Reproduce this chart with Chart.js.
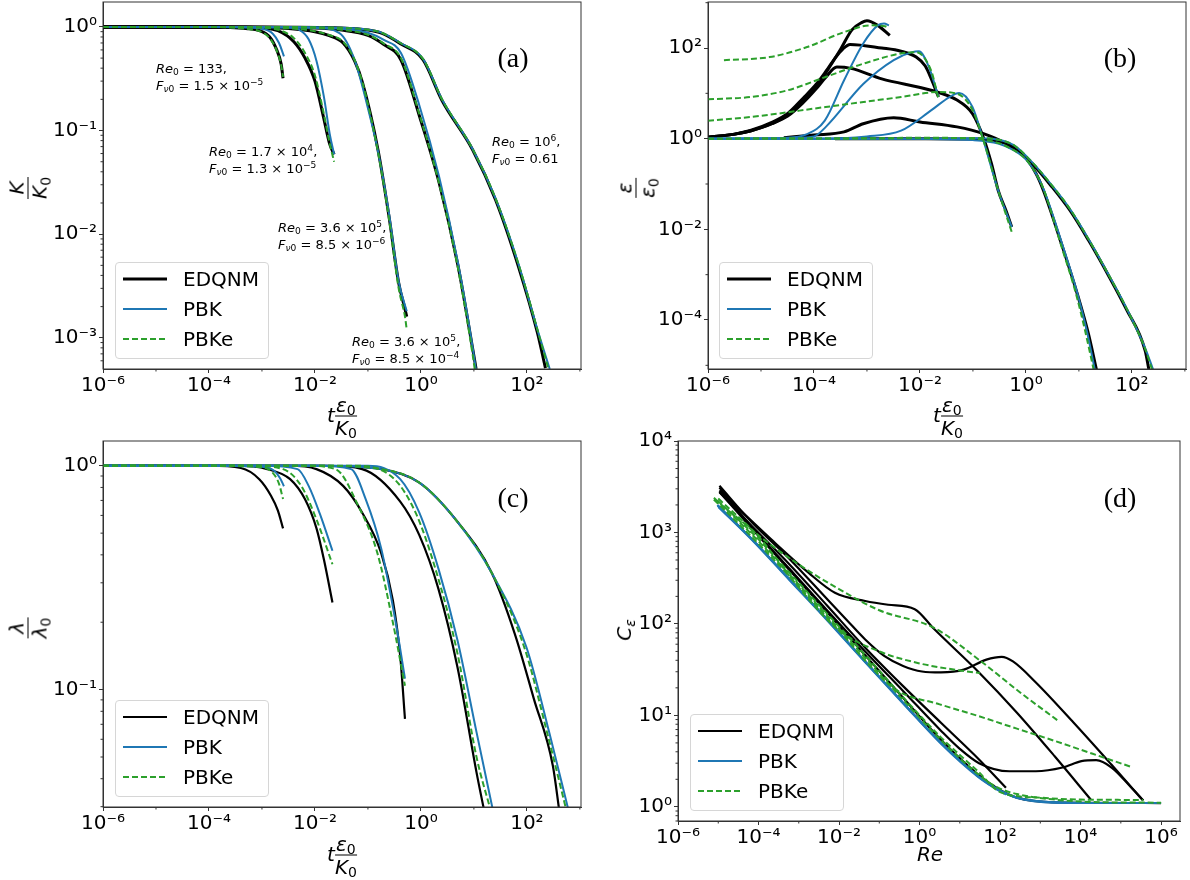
<!DOCTYPE html>
<html>
<head>
<meta charset="utf-8">
<script src="https://cdn.jsdelivr.net/npm/chart.js@4.4.0/dist/chart.umd.min.js"></script>
<style>
  body { margin: 0; background: #fff; font-family: "DejaVu Sans", sans-serif; }
  #fig { position: relative; width: 1190px; height: 880px; overflow: hidden; }
  #fig canvas { position: absolute; }
  .lbl { position: absolute; white-space: nowrap; color: #000; transform: translate(-50%, -50%); }
  .rot { transform: translate(-50%, -50%) rotate(-90deg); }
  .frac { display: inline-flex; flex-direction: column; align-items: center; vertical-align: middle; line-height: 1; }
  .frac .den { border-top: 1.4px solid #000; padding-top: 1px; }
  .frac .num { padding-bottom: 1px; }
  sub, sup { font-size: 0.7em; line-height: 0; }
  sub { vertical-align: -0.25em; }
  sup { vertical-align: 0.55em; }
  .axt { font-size: 20px; }
  .tag { position: absolute; font-family: "Liberation Serif", serif; font-size: 28px; transform: translate(-50%, -50%); }
  .note { position: absolute; font-size: 13px; line-height: 17px; white-space: nowrap; }
  .leg { position: absolute; border: 1px solid #d6d6d6; border-radius: 4px; background: rgba(255,255,255,0.85); box-sizing: border-box; }
  .leg .row { position: absolute; left: 0; height: 24px; font-size: 20px; line-height: 24px; }
  .leg svg { position: absolute; top: 9px; }
  .leg span { position: absolute; top: 0; }
</style>
</head>
<body>
<div id="fig">
  <canvas id="ca" width="595" height="440" style="left:0;top:0"></canvas>
  <canvas id="cb" width="595" height="440" style="left:595px;top:0"></canvas>
  <canvas id="cc" width="595" height="440" style="left:0;top:440px"></canvas>
  <canvas id="cd" width="595" height="455" style="left:595px;top:425px"></canvas>

  <!-- axis labels -->
  <div class="lbl rot axt" style="left:28px;top:188px"><span class="frac"><span class="num"><i>K</i></span><span class="den"><i>K</i><sub>0</sub></span></span></div>
  <div class="lbl axt" style="left:342px;top:416px"><i>t</i><span class="frac"><span class="num"><i>ε</i><sub>0</sub></span><span class="den"><i>K</i><sub>0</sub></span></span></div>
  <div class="lbl rot axt" style="left:636px;top:188px"><span class="frac"><span class="num"><i>ε</i></span><span class="den"><i>ε</i><sub>0</sub></span></span></div>
  <div class="lbl axt" style="left:948px;top:416px"><i>t</i><span class="frac"><span class="num"><i>ε</i><sub>0</sub></span><span class="den"><i>K</i><sub>0</sub></span></span></div>
  <div class="lbl rot axt" style="left:28px;top:628px"><span class="frac"><span class="num"><i>λ</i></span><span class="den"><i>λ</i><sub>0</sub></span></span></div>
  <div class="lbl axt" style="left:342px;top:855px"><i>t</i><span class="frac"><span class="num"><i>ε</i><sub>0</sub></span><span class="den"><i>K</i><sub>0</sub></span></span></div>
  <div class="lbl rot axt" style="left:624px;top:630px"><i>C</i><sub><i>ε</i></sub></div>
  <div class="lbl axt" style="left:930px;top:854px"><i>Re</i></div>

  <!-- panel tags -->
  <div class="tag" style="left:513px;top:58px">(a)</div>
  <div class="tag" style="left:1120px;top:58px">(b)</div>
  <div class="tag" style="left:513px;top:498px">(c)</div>
  <div class="tag" style="left:1120px;top:498px">(d)</div>

  <!-- case notes in (a) -->
  <div class="note" style="left:156px;top:60px"><i>Re</i><sub>0</sub> = 133,<br><i>F</i><sub><i>ν</i>0</sub> = 1.5 × 10<sup>−5</sup></div>
  <div class="note" style="left:209px;top:143px"><i>Re</i><sub>0</sub> = 1.7 × 10<sup>4</sup>,<br><i>F</i><sub><i>ν</i>0</sub> = 1.3 × 10<sup>−5</sup></div>
  <div class="note" style="left:278px;top:219px"><i>Re</i><sub>0</sub> = 3.6 × 10<sup>5</sup>,<br><i>F</i><sub><i>ν</i>0</sub> = 8.5 × 10<sup>−6</sup></div>
  <div class="note" style="left:352px;top:333px"><i>Re</i><sub>0</sub> = 3.6 × 10<sup>5</sup>,<br><i>F</i><sub><i>ν</i>0</sub> = 8.5 × 10<sup>−4</sup></div>
  <div class="note" style="left:492px;top:133px"><i>Re</i><sub>0</sub> = 10<sup>6</sup>,<br><i>F</i><sub><i>ν</i>0</sub> = 0.61</div>

  <div id="legends"></div>
</div>
<script>
// ---------- panel (a): K/K0 against t eps0/K0 ----------
const aT1 = [1e-6, 1e-4, 2.5e-4, 5e-4, 9e-4, 1.4e-3, 1.9e-3, 2.3e-3, 2.5e-3];
const aK1_edqnm = [1, 0.999, 0.99, 0.965, 0.92, 0.8, 0.6, 0.44, 0.32];
const aK1_pbke = [1, 0.999, 0.99, 0.96, 0.91, 0.78, 0.59, 0.43, 0.33];
const aT1_pbk = [1e-6, 1e-4, 5e-4, 1e-3, 1.6e-3, 2.1e-3, 2.6e-3];
const aK1_pbk = [1, 1, 0.99, 0.96, 0.86, 0.7, 0.52];

const aT2 = [1e-6, 1e-4, 5e-4, 1e-3, 2e-3, 4e-3, 6.5e-3, 1e-2, 1.45e-2, 1.9e-2, 2.3e-2];
const aK2_edqnm = [1, 1, 0.995, 0.975, 0.92, 0.72, 0.5, 0.3, 0.135, 0.074, 0.059];
const aK2_pbke = [1, 1, 0.997, 0.985, 0.94, 0.78, 0.56, 0.34, 0.15, 0.075, 0.05];
const aT2_pbk = [1e-6, 1e-4, 1e-3, 3.2e-3, 5e-3, 7.6e-3, 1.07e-2, 1.48e-2, 1.9e-2, 2.3e-2];
const aK2_pbk = [1, 1, 1, 0.99, 0.94, 0.76, 0.47, 0.21, 0.093, 0.059];

const aT3 = [1e-6, 1e-4, 1e-3, 3.2e-3, 1e-2, 1.8e-2, 3.4e-2, 5.6e-2, 7.9e-2, 0.155, 0.25, 0.38, 0.5, 0.54];
const aK3_edqnm = [1, 1, 0.99, 0.966, 0.9, 0.83, 0.7, 0.47, 0.29, 0.065, 0.0148, 0.0034, 0.0019, 0.0016];
const aK3_pbke = [1, 1, 0.99, 0.97, 0.91, 0.84, 0.72, 0.48, 0.29, 0.062, 0.014, 0.003, 0.0016, 0.0012];
const aT3_pbk = [1e-6, 1e-4, 1e-3, 1e-2, 2.9e-2, 5.6e-2, 0.11, 0.155, 0.25, 0.38, 0.54];
const aK3_pbk = [1, 1, 1, 0.98, 0.87, 0.48, 0.135, 0.063, 0.0158, 0.0035, 0.0018];

const aT4 = [1e-6, 1e-4, 1e-2, 3.2e-2, 0.1, 0.2, 0.42, 0.95, 2.2, 5, 9.5, 11];
const aK4_edqnm = [1, 1, 0.977, 0.933, 0.83, 0.676, 0.48, 0.135, 0.0316, 0.005, 0.00078, 0.0005];
const aK4_pbk = [1, 1, 0.99, 0.96, 0.88, 0.75, 0.56, 0.17, 0.036, 0.0053, 0.0008, 0.00048];
const aK4_pbke = [1, 1, 0.98, 0.94, 0.84, 0.69, 0.5, 0.14, 0.031, 0.0047, 0.00068, 0.0004];

const aT5 = [1e-6, 1e-3, 3.2e-2, 0.1, 0.18, 0.41, 1.1, 2.5, 9.5, 25.7, 69, 158, 224];
const aK5_edqnm = [1, 1, 0.977, 0.933, 0.87, 0.69, 0.48, 0.195, 0.065, 0.0214, 0.0049, 0.00112, 0.00051];
const aT5_pbk = [1e-6, 1e-3, 3.2e-2, 0.1, 0.18, 0.41, 1.1, 2.5, 9.5, 25.7, 69, 158, 270];
const aT5_pbke = [1e-6, 1e-3, 3.2e-2, 0.1, 0.18, 0.41, 1.1, 2.5, 9.5, 25.7, 69, 158, 255];
const aK5_pbk = [1, 1, 0.98, 0.94, 0.88, 0.7, 0.49, 0.2, 0.066, 0.022, 0.0052, 0.0012, 0.0005];

// ---------- panel (b): eps/eps0 ----------
const bT1 = [1e-6, 3.2e-6, 6.3e-6, 1.6e-5, 3.2e-5, 6.3e-5, 1.1e-4, 1.66e-4, 3.2e-4, 5.2e-4, 7.9e-4, 1e-3, 1.6e-3, 2.7e-3];
const bE1_edqnm = [1.07, 1.26, 1.48, 2.14, 3.3, 7.1, 14.1, 28, 95, 251, 363, 398, 316, 190];
const bT1_pbk = [1e-6, 3.2e-5, 7.4e-5, 1.6e-4, 3.7e-4, 8.5e-4, 1.6e-3, 2.1e-3, 2.6e-3];
const bE1_pbk = [1, 1.05, 1.26, 2.5, 19.5, 126, 316, 347, 316];
const bT1_pbke = [2e-6, 1.45e-5, 7.4e-5, 3.7e-4, 1.17e-3, 2.2e-3, 2.5e-3];
const bE1_pbke = [54, 63, 105, 224, 316, 302, 282];

const bT2 = [1e-6, 3.2e-6, 6.3e-6, 1.6e-5, 3.2e-5, 6.3e-5, 1.1e-4, 1.66e-4, 2.5e-4, 3.5e-4, 4.8e-4, 1.9e-3, 4.4e-3, 8.5e-3, 1.26e-2, 1.66e-2, 2.24e-2];
const bE2_edqnm = [1.07, 1.26, 1.51, 2.29, 3.6, 7.9, 15.8, 30, 60, 95, 120, 100, 85, 63, 40, 20, 8.3];
const bT2_pbk = [1e-6, 3.2e-5, 1e-4, 1.66e-4, 8.5e-4, 3.2e-3, 7.1e-3, 9.5e-3, 1.48e-2, 2.24e-2];
const bE2_pbk = [1, 1.02, 1.12, 1.8, 16, 54, 81, 85, 38, 8.3];
const bT2_pbke = [1e-6, 6.3e-6, 3.2e-5, 1.66e-4, 8.5e-4, 4.4e-3, 8.3e-3, 1.62e-2, 2.24e-2];
const bE2_pbke = [7.4, 8.3, 11.7, 23, 45, 76, 81, 32, 7.6];

const bT3 = [1e-6, 3.2e-6, 6.3e-6, 1.6e-5, 3.2e-5, 6.3e-5, 1.1e-4, 1.66e-4, 2.7e-4, 5e-4, 1.9e-3, 1.62e-2, 5e-2, 9.8e-2, 0.158, 0.224, 0.3, 0.42, 0.54];
const bE3_edqnm = [1.07, 1.26, 1.48, 2.14, 3.16, 6.3, 12.6, 22.4, 38, 35.5, 20.9, 11.7, 7.1, 3.55, 1.05, 0.28, 0.072, 0.026, 0.0112];
const bT3_pbk = [1e-6, 1e-4, 1e-3, 4.4e-3, 1.62e-2, 3.6e-2, 5.5e-2, 9.8e-2, 0.158, 0.3, 0.54];
const bE3_pbk = [1, 1, 1.12, 1.5, 4.2, 8.3, 10.2, 5, 0.91, 0.072, 0.0112];
const bT3_pbke = [1e-6, 6.3e-6, 1.66e-4, 4.4e-3, 2.24e-2, 5e-2, 9.8e-2, 0.158, 0.3, 0.54];
const bE3_pbke = [2.5, 3, 5, 8.3, 10.7, 9.8, 4.3, 0.91, 0.072, 0.0087];

const bT4 = [2.7e-5, 1e-4, 3.7e-4, 8.5e-4, 3.2e-3, 1e-2, 5e-2, 0.158, 0.42, 0.95, 1.55, 2.14, 4.9, 9.3, 15.1, 21.4];
const bE4_edqnm = [1.05, 1.2, 1.41, 2.14, 2.9, 2.34, 1.82, 1.29, 0.78, 0.4, 0.17, 0.072, 0.0041, 0.00038, 5e-5, 8.1e-6];
const bT4_pbk = [1e-6, 1e-3, 1e-2, 0.1, 0.3, 0.6, 1, 1.6, 2.2, 4.9, 9.3, 14, 20];
const bE4_pbk = [1, 1, 0.99, 0.93, 0.78, 0.55, 0.35, 0.16, 0.072, 0.0045, 0.0004, 6e-5, 8e-6];
const bT4_pbke = [1e-6, 1e-3, 1e-2, 0.1, 0.3, 0.6, 1, 1.6, 2.2, 4.6, 8.7, 13, 19];
const bE4_pbke = [1, 1.02, 1.05, 1, 0.8, 0.55, 0.35, 0.16, 0.072, 0.0045, 0.0004, 6e-5, 8e-6];

const bT5 = [2.5e-4, 1e-2, 0.115, 0.3, 0.59, 1.32, 2.95, 6.8, 15.1, 34.7, 77.6, 178, 209];
const bE5_edqnm = [1, 0.995, 0.98, 0.88, 0.66, 0.28, 0.093, 0.026, 0.0058, 0.00105, 0.000178, 2.1e-5, 8.1e-6];
const bT5_pbk = [1e-6, 1e-2, 0.115, 0.3, 0.59, 1.32, 2.95, 6.8, 15.1, 34.7, 77.6, 178, 251];
const bE5_pbk = [1, 1, 1.02, 0.95, 0.72, 0.3, 0.1, 0.028, 0.0062, 0.0011, 0.00019, 2.4e-5, 8.1e-6];
const bT5_pbke = [1e-6, 1e-2, 0.115, 0.3, 0.59, 1.32, 2.95, 6.8, 15.1, 34.7, 77.6, 178, 240];
const bE5_pbke = [1, 1.02, 1.04, 0.95, 0.72, 0.3, 0.1, 0.028, 0.0061, 0.0011, 0.00019, 2.3e-5, 8.1e-6];

// ---------- panel (c): lambda/lambda0 ----------
const cT1 = [1e-6, 1e-4, 4e-4, 8.9e-4, 1.48e-3, 2e-3, 2.5e-3];
const cL1_edqnm = [1, 1, 0.977, 0.871, 0.735, 0.631, 0.525];
const cT1_pbk = [1e-6, 1e-4, 1e-3, 1.7e-3, 2.2e-3, 2.6e-3];
const cL1_pbk = [1, 1, 0.99, 0.95, 0.88, 0.81];
const cT1_pbke = [1e-6, 1e-4, 1e-3, 1.6e-3, 2.1e-3, 2.5e-3];
const cL1_pbke = [1, 1, 0.985, 0.93, 0.83, 0.71];

const cT2 = [1e-6, 3.2e-4, 1.26e-3, 3.4e-3, 6.5e-3, 1.07e-2, 1.48e-2, 2.14e-2];
const cL2_edqnm = [1, 1, 0.966, 0.871, 0.708, 0.525, 0.38, 0.245];
const cT2_pbk = [1e-6, 1e-3, 4.7e-3, 7.6e-3, 1.26e-2, 2.14e-2];
const cL2_pbk = [1, 1, 0.966, 0.813, 0.603, 0.417];
const cT2_pbke = [1e-6, 6.3e-4, 2.5e-3, 5.5e-3, 1.07e-2, 2.14e-2];
const cL2_pbke = [1, 1, 0.966, 0.813, 0.575, 0.363];

const cT3 = [1e-6, 3.2e-3, 1.07e-2, 3.4e-2, 7.8e-2, 0.178, 0.295, 0.407, 0.5];
const cL3_edqnm = [1, 1, 0.966, 0.813, 0.617, 0.407, 0.251, 0.141, 0.074];
const cT3_pbk = [1e-6, 1e-2, 4.8e-2, 9.1e-2, 0.178, 0.347, 0.5];
const cL3_pbk = [1, 1, 0.966, 0.708, 0.427, 0.19, 0.112];
const cT3_pbke = [1e-6, 6.3e-3, 2.45e-2, 6.6e-2, 0.151, 0.295, 0.5];
const cL3_pbke = [1, 1, 0.966, 0.661, 0.407, 0.2, 0.104];

const cT4 = [1e-6, 1.6e-2, 7.8e-2, 0.407, 0.933, 2.14, 4.9, 11.2, 16];
const cL4_edqnm = [1, 1, 0.966, 0.692, 0.49, 0.282, 0.126, 0.0427, 0.028];
const cT4_pbk = [1e-6, 0.1, 0.407, 0.933, 2.14, 4.9, 11.2, 23.5];
const cL4_pbk = [1, 1, 0.871, 0.617, 0.347, 0.166, 0.0646, 0.028];
const cT4_pbke = [1e-6, 6.3e-2, 0.316, 0.794, 1.82, 4.9, 11.2, 21.5];
const cL4_pbke = [1, 1, 0.871, 0.617, 0.355, 0.145, 0.05, 0.028];

const cT5 = [1e-6, 1e-2, 0.178, 0.933, 4.9, 21.9, 58.9, 135, 309, 415];
const cL5_edqnm = [1, 1, 0.966, 0.841, 0.562, 0.331, 0.178, 0.0912, 0.0457, 0.028];
const cT5_pbk = [1e-6, 1e-2, 0.178, 0.933, 4.9, 21.9, 97.7, 263, 630];
const cL5_pbk = [1, 1, 0.966, 0.841, 0.562, 0.331, 0.155, 0.0646, 0.028];
const cT5_pbke = [1e-6, 1e-2, 0.178, 0.933, 4.9, 21.9, 93, 250, 575];
const cL5_pbke = [1, 1, 0.966, 0.841, 0.562, 0.331, 0.15, 0.062, 0.028];

// ---------- panel (d): C_eps against Re ----------
const dRe1 = [1.07e-5, 6.8e-5, 5.9e-4, 5.1e-3, 0.0447, 0.39, 3.4, 30, 140];
const dC1_edqnm = [2754, 1175, 447, 158, 55, 20.9, 8.3, 3.3, 1.62];
const dRe2 = [1.07e-5, 2e-4, 1.74e-3, 7.9e-3, 0.0447, 0.166, 0.76, 2.24, 30, 263, 2.3e3, 1.8e4];
const dC2_edqnm = [2884, 851, 363, 219, 178, 162, 145, 89, 29.5, 10.7, 3.55, 1.2];
const dRe3 = [1.07e-5, 6.8e-5, 5.9e-4, 5.1e-3, 0.0151, 0.0447, 0.132, 0.39, 1.15, 3.4, 12.6, 45.7, 110, 209, 776, 6.76e3, 5.9e4, 3.6e5];
const dC3_edqnm = [3240, 1290, 513, 186, 112, 67.6, 44.7, 34.7, 30.2, 29.5, 31.6, 40.7, 43.7, 38.9, 22.9, 8.3, 2.88, 1.17];
const dRe4 = [1.07e-5, 6.8e-5, 5.9e-4, 5.1e-3, 0.0447, 0.39, 3.4, 10, 30, 170, 776, 3.55e3, 1.05e4, 2.45e4, 5.9e4, 1.74e5, 3.6e5];
const dC4_edqnm = [3090, 1150, 400, 140, 50, 18.5, 6.8, 4.3, 3.0, 2.45, 2.45, 2.69, 3.16, 3.24, 2.69, 1.66, 1.17];
const dRe5 = [1.07e-5, 6.8e-5, 5.9e-4, 5.1e-3, 0.0447, 0.39, 3.4, 29.5, 89, 263, 2.3e3, 1e6];
const dC5_edqnm = [2790, 1106, 386, 134, 45.5, 15.6, 5.4, 2.23, 1.58, 1.26, 1.12, 1.1];

const dRe1_pbk = [1e-5, 6.8e-5, 5.9e-4, 5.1e-3, 0.0447, 0.39, 3.4, 29.5, 89, 140];
const dC1_pbk = [1900, 830, 300, 109, 38, 13.5, 4.9, 2.1, 1.52, 1.36];
const dRe2_pbk = [9.8e-6, 6.8e-5, 5.9e-4, 5.1e-3, 0.0447, 0.39, 3.4, 29.5, 89, 263, 2.3e3, 1.8e4];
const dC2_pbk = [1960, 845, 306, 111, 38.6, 13.7, 5.0, 2.13, 1.54, 1.25, 1.11, 1.1];
const dRe3_pbk = [9.6e-6, 6.8e-5, 5.9e-4, 5.1e-3, 0.0447, 0.39, 3.4, 29.5, 89, 263, 2.3e3, 2e4, 3.6e5];
const dC3_pbk = [1980, 848, 308, 112, 38.8, 13.8, 5.0, 2.14, 1.55, 1.26, 1.12, 1.1, 1.1];
const dRe5_pbk = [9.5e-6, 6.8e-5, 5.9e-4, 5.1e-3, 0.0447, 0.39, 3.4, 29.5, 89, 263, 2.3e3, 2e4, 1e6];
const dC5_pbk = [1995, 851, 309, 112, 38.9, 13.8, 5.0, 2.14, 1.55, 1.26, 1.12, 1.1, 1.1];

const dRe1_pbke = [1e-5, 1e-4, 1e-3, 0.01, 0.1, 1, 10, 31.6];
const dC1_pbke = [2350, 900, 250, 85, 50, 37, 31, 29];
const dRe2_pbke = [7.9e-6, 3.2e-5, 1.05e-4, 1e-3, 0.01, 0.1, 2.24, 31.6, 316, 2.8e3];
const dC2_pbke = [2290, 1413, 912, 447, 240, 141, 91, 39.8, 17.8, 8.7];
const dRe3_pbke = [7.8e-6, 6.8e-5, 5.9e-4, 5.1e-3, 0.0151, 0.0447, 0.257, 3.16, 29.5, 251, 2.3e3, 2e4, 1.74e5];
const dC3_pbke = [2290, 891, 331, 117, 69, 39.8, 19.1, 13.2, 9.8, 7.2, 5.25, 3.8, 2.75];
const dRe4_pbke = [9.5e-6, 6.8e-5, 5.9e-4, 5.1e-3, 0.0447, 0.39, 3.4, 29.5, 100, 1e3, 1e4, 3.6e5];
const dC4_pbke = [2240, 1000, 363, 129, 45.7, 15.8, 5.75, 2.4, 1.45, 1.26, 1.2, 1.19];
const dRe5_pbke = [7.8e-6, 6.8e-5, 5.9e-4, 5.1e-3, 0.0447, 0.39, 3.4, 29.5, 89, 263, 2.3e3, 2e4, 1e6];
const dC5_pbke = [2400, 955, 347, 123, 42.7, 14.8, 5.37, 2.24, 1.62, 1.38, 1.2, 1.13, 1.11];

// tick positions
const tTicks = [1e-6, 1e-4, 1e-2, 1, 1e2];
const aYTicks = [1e-3, 1e-2, 1e-1, 1];
const bYTicks = [1e-4, 1e-2, 1, 1e2];
const cYTicks = [1e-1, 1];
const dXTicks = [1e-6, 1e-4, 1e-2, 1, 1e2, 1e4, 1e6];
const dYTicks = [1, 10, 1e2, 1e3, 1e4];

const legendNames = ['EDQNM', 'PBK', 'PBKe'];

// ---------- helpers ----------
const SUP = { '-': '⁻', '0': '⁰', '1': '¹', '2': '²', '3': '³', '4': '⁴', '5': '⁵', '6': '⁶', '7': '⁷', '8': '⁸', '9': '⁹' };
const sup = v => '10' + String(Math.round(Math.log10(v))).split('').map(c => SUP[c]).join('');
const pts = (xs, ys) => xs.map((x, i) => ({ x: x, y: ys[i] }));

function curve(xs, ys, model, blackWidth) {
  const ds = { label: model, data: pts(xs, ys), fill: false, pointRadius: 0, borderJoinStyle: 'round' };
  if (model === 'EDQNM') return Object.assign(ds, { borderColor: '#000000', borderWidth: blackWidth, order: 3 });
  if (model === 'PBK') return Object.assign(ds, { borderColor: '#1f77b4', borderWidth: 2, order: 2 });
  return Object.assign(ds, { borderColor: '#2ca02c', borderWidth: 2, borderDash: [6, 3], order: 1 });
}

function logAxis(min, max, ticks, isX, size) {
  return {
    type: 'logarithmic', min: min, max: max,
    afterBuildTicks: s => { s.ticks = ticks.map(v => ({ value: v })); },
    afterFit: s => {
      if (isX) s.height = size; else s.width = size;
      s.paddingTop = 0; s.paddingBottom = 0; s.paddingLeft = 0; s.paddingRight = 0;
    },
    ticks: { callback: v => sup(v), autoSkip: false, maxRotation: 0, color: '#000',
             font: { size: 20, family: 'DejaVu Sans' }, padding: isX ? 1 : 2 },
    grid: { display: true, drawOnChartArea: false, drawTicks: true, tickLength: 4, color: '#333' },
    border: { display: true, color: '#333', width: 1 }
  };
}

// box round the plot area + minor ticks, like matplotlib spines
const frame = {
  id: 'frame',
  afterDraw(chart, args, opts) {
    const { ctx, chartArea: a, scales } = chart;
    ctx.save();
    ctx.strokeStyle = '#333';
    ctx.lineWidth = 1;
    ctx.strokeRect(a.left, a.top, a.right - a.left, a.bottom - a.top);
    ctx.beginPath();
    const ys = scales.y, xs = scales.x;
    const yLo = Math.floor(Math.log10(ys.min)), yHi = Math.ceil(Math.log10(ys.max));
    for (let e = yLo; e <= yHi; e++) {
      if (opts.yMinor) {
        for (let k = 2; k <= 9; k++) {
          const v = k * Math.pow(10, e);
          if (v <= ys.min || v >= ys.max) continue;
          const p = ys.getPixelForValue(v);
          ctx.moveTo(a.left - 2.5, p); ctx.lineTo(a.left, p);
        }
      } else if (Math.abs(e % 2) === 1) {
        const v = Math.pow(10, e);
        if (v > ys.min && v < ys.max) {
          const p = ys.getPixelForValue(v);
          ctx.moveTo(a.left - 2.5, p); ctx.lineTo(a.left, p);
        }
      }
    }
    const xLo = Math.floor(Math.log10(xs.min)), xHi = Math.ceil(Math.log10(xs.max));
    for (let e = xLo; e <= xHi; e++) {
      if (Math.abs(e % 2) !== 1) continue;
      const v = Math.pow(10, e);
      if (v <= xs.min || v >= xs.max) continue;
      const p = xs.getPixelForValue(v);
      ctx.moveTo(p, a.bottom); ctx.lineTo(p, a.bottom + 2.5);
    }
    ctx.stroke();
    ctx.restore();
  }
};

function makeChart(id, datasets, c) {
  return new Chart(document.getElementById(id), {
    type: 'line',
    data: { datasets: datasets },
    options: {
      responsive: false, animation: false, devicePixelRatio: 1,
      layout: { padding: c.pad },
      plugins: { legend: { display: false }, tooltip: { enabled: false }, frame: { yMinor: c.yMinor } },
      elements: { line: { cubicInterpolationMode: 'monotone', borderCapStyle: 'butt' }, point: { radius: 0 } },
      scales: {
        x: logAxis(c.xMin, c.xMax, c.xTicks, true, c.xH),
        y: logAxis(c.yMin, c.yMax, c.yTicks, false, c.yW)
      }
    },
    plugins: [frame]
  });
}

// ---------- build charts ----------
const W_A = 3, W_C = 2.2;
makeChart('ca', [
  curve(aT1, aK1_edqnm, 'EDQNM', W_A), curve(aT1_pbk, aK1_pbk, 'PBK'), curve(aT1, aK1_pbke, 'PBKe'),
  curve(aT2, aK2_edqnm, 'EDQNM', W_A), curve(aT2_pbk, aK2_pbk, 'PBK'), curve(aT2, aK2_pbke, 'PBKe'),
  curve(aT3, aK3_edqnm, 'EDQNM', W_A), curve(aT3_pbk, aK3_pbk, 'PBK'), curve(aT3, aK3_pbke, 'PBKe'),
  curve(aT4, aK4_edqnm, 'EDQNM', W_A), curve(aT4, aK4_pbk, 'PBK'), curve(aT4, aK4_pbke, 'PBKe'),
  curve(aT5, aK5_edqnm, 'EDQNM', W_A), curve(aT5_pbk, aK5_pbk, 'PBK'), curve(aT5_pbke, aK5_pbk, 'PBKe')
], { pad: { top: 2, right: 14, left: 0, bottom: 0 }, xMin: 1e-6, xMax: 1.05e3, xTicks: tTicks, xH: 71,
     yMin: 5.0e-4, yMax: 1.74, yTicks: aYTicks, yW: 103, yMinor: true });

makeChart('cb', [
  curve(bT1, bE1_edqnm, 'EDQNM', W_A), curve(bT1_pbk, bE1_pbk, 'PBK'), curve(bT1_pbke, bE1_pbke, 'PBKe'),
  curve(bT2, bE2_edqnm, 'EDQNM', W_A), curve(bT2_pbk, bE2_pbk, 'PBK'), curve(bT2_pbke, bE2_pbke, 'PBKe'),
  curve(bT3, bE3_edqnm, 'EDQNM', W_A), curve(bT3_pbk, bE3_pbk, 'PBK'), curve(bT3_pbke, bE3_pbke, 'PBKe'),
  curve(bT4, bE4_edqnm, 'EDQNM', W_A), curve(bT4_pbk, bE4_pbk, 'PBK'), curve(bT4_pbke, bE4_pbke, 'PBKe'),
  curve(bT5, bE5_edqnm, 'EDQNM', W_A), curve(bT5_pbk, bE5_pbk, 'PBK'), curve(bT5_pbke, bE5_pbke, 'PBKe')
], { pad: { top: 2, right: 4, left: 0, bottom: 0 }, xMin: 1e-6, xMax: 1.05e3, xTicks: tTicks, xH: 71,
     yMin: 8.3e-6, yMax: 1035, yTicks: bYTicks, yW: 113, yMinor: false });

makeChart('cc', [
  curve(cT1, cL1_edqnm, 'EDQNM', W_C), curve(cT1_pbk, cL1_pbk, 'PBK'), curve(cT1_pbke, cL1_pbke, 'PBKe'),
  curve(cT2, cL2_edqnm, 'EDQNM', W_C), curve(cT2_pbk, cL2_pbk, 'PBK'), curve(cT2_pbke, cL2_pbke, 'PBKe'),
  curve(cT3, cL3_edqnm, 'EDQNM', W_C), curve(cT3_pbk, cL3_pbk, 'PBK'), curve(cT3_pbke, cL3_pbke, 'PBKe'),
  curve(cT4, cL4_edqnm, 'EDQNM', W_C), curve(cT4_pbk, cL4_pbk, 'PBK'), curve(cT4_pbke, cL4_pbke, 'PBKe'),
  curve(cT5, cL5_edqnm, 'EDQNM', W_C), curve(cT5_pbk, cL5_pbk, 'PBK'), curve(cT5_pbke, cL5_pbke, 'PBKe')
], { pad: { top: 1, right: 14, left: 0, bottom: 0 }, xMin: 1e-6, xMax: 1.05e3, xTicks: tTicks, xH: 73,
     yMin: 0.0299, yMax: 1.29, yTicks: cYTicks, yW: 103, yMinor: true });

makeChart('cd', [
  curve(dRe1, dC1_edqnm, 'EDQNM', W_C), curve(dRe2, dC2_edqnm, 'EDQNM', W_C), curve(dRe3, dC3_edqnm, 'EDQNM', W_C),
  curve(dRe4, dC4_edqnm, 'EDQNM', W_C), curve(dRe5, dC5_edqnm, 'EDQNM', W_C),
  curve(dRe1_pbk, dC1_pbk, 'PBK'), curve(dRe2_pbk, dC2_pbk, 'PBK'), curve(dRe3_pbk, dC3_pbk, 'PBK'),
  curve(dRe5_pbk, dC5_pbk, 'PBK'),
  curve(dRe1_pbke, dC1_pbke, 'PBKe'), curve(dRe2_pbke, dC2_pbke, 'PBKe'), curve(dRe3_pbke, dC3_pbke, 'PBKe'),
  curve(dRe4_pbke, dC4_pbke, 'PBKe'), curve(dRe5_pbke, dC5_pbke, 'PBKe')
], { pad: { top: 16, right: 10, left: 0, bottom: 0 }, xMin: 1e-6, xMax: 2.95e6, xTicks: dXTicks, xH: 59,
     yMin: 0.708, yMax: 1e4, yTicks: dYTicks, yW: 83, yMinor: true });

// ---------- legends (one per panel) ----------
function legend(left, top, blackW) {
  const box = document.createElement('div');
  box.className = 'leg';
  box.style.cssText = `left:${left}px;top:${top}px;width:154px;height:97px`;
  const samples = [
    `<line x1="0" y1="3" x2="44" y2="3" stroke="#000" stroke-width="${blackW}"/>`,
    `<line x1="0" y1="3" x2="44" y2="3" stroke="#1f77b4" stroke-width="2"/>`,
    `<line x1="0" y1="3" x2="44" y2="3" stroke="#2ca02c" stroke-width="2" stroke-dasharray="6 3"/>`
  ];
  legendNames.forEach((name, i) => {
    const row = document.createElement('div');
    row.className = 'row';
    row.style.top = (4 + i * 30) + 'px';
    row.innerHTML = `<svg width="44" height="6" style="left:7px">${samples[i]}</svg><span style="left:67px">${name}</span>`;
    box.appendChild(row);
  });
  document.getElementById('legends').appendChild(box);
}
legend(115, 262, 3);
legend(719, 262, 3);
legend(115, 700, 2.2);
legend(690, 714, 2.2);
</script>
</body>
</html>
